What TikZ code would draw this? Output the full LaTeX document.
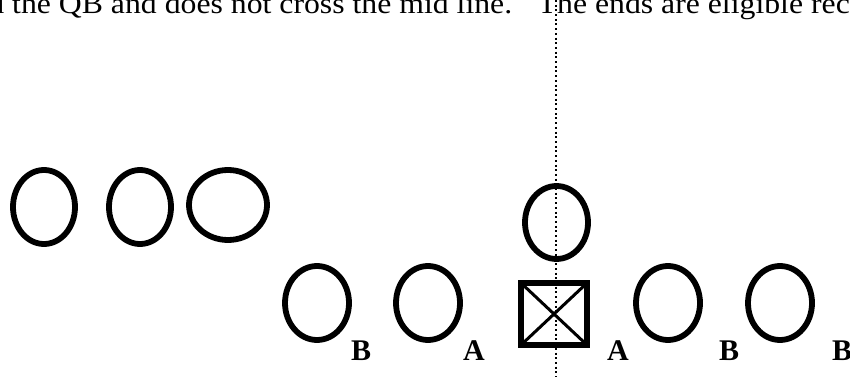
\documentclass[tikz,border=0pt]{standalone}
\usepackage{fontspec}
\setmainfont{Liberation Serif}
\usetikzlibrary{shapes.geometric}
\begin{document}
\begin{tikzpicture}[x=1pt,y=-1pt,
    player/.style={draw, ellipse, line width=5.8pt, inner sep=0pt, outer sep=0pt,
        minimum width=64pt, minimum height=74pt},
    tag/.style={font=\fontsize{30}{32}\selectfont\bfseries, anchor=base west, inner sep=0pt}]
    \useasboundingbox (0,0) rectangle (850,377);
    \clip (0,0) rectangle (850,377);

    % caption line, cut off by the frame
    \node[anchor=base west, inner sep=0pt, font=\fontsize{29}{32}\selectfont] (caption) at (12,14)
        {\scalebox{1.095}[1]{\llap{and }the QB and does not cross the mid line.\hspace{0.8em}The ends are eligible receivers}};

    % defenders in the back
    \node[player, minimum width=62pt] (d1) at (44,207) {};
    \node[player, minimum width=62pt] (d2) at (140,207) {};
    \node[player, minimum width=78pt, minimum height=70pt] (d3) at (228,205) {};

    % quarterback behind the center
    \node[player, minimum width=63pt, minimum height=73pt] (qb) at (556.5,222.5) {};

    % the line
    \node[player] (lb) at (317,303) {};
    \node[player] (la) at (428,303) {};
    \node[draw, rectangle, line width=6pt, inner sep=0pt, outer sep=0pt,
        minimum width=66pt, minimum height=62pt] (ctr) at (554,314) {};
    \draw[line width=3pt] (ctr.north west) -- (ctr.south east);
    \draw[line width=3pt] (ctr.north east) -- (ctr.south west);
    \node[player] (ra) at (668,303) {};
    \node[player] (rb) at (780,303) {};

    % letters for the eligible men
    \node[tag] (tb1) at (351,360) {B};
    \node[tag] (ta1) at (463,360) {A};
    \node[tag] (ta2) at (607,360) {A};
    \node[tag] (tb2) at (719,360) {B};
    \node[tag] (tb3) at (832,360) {B};

    % mid line
    \coordinate (midtop) at (556,0);
    \coordinate (midbot) at (556,377);
    \draw[line width=2pt, dash pattern=on 2pt off 2.7pt] (midtop) -- (midbot);
\end{tikzpicture}
\end{document}
